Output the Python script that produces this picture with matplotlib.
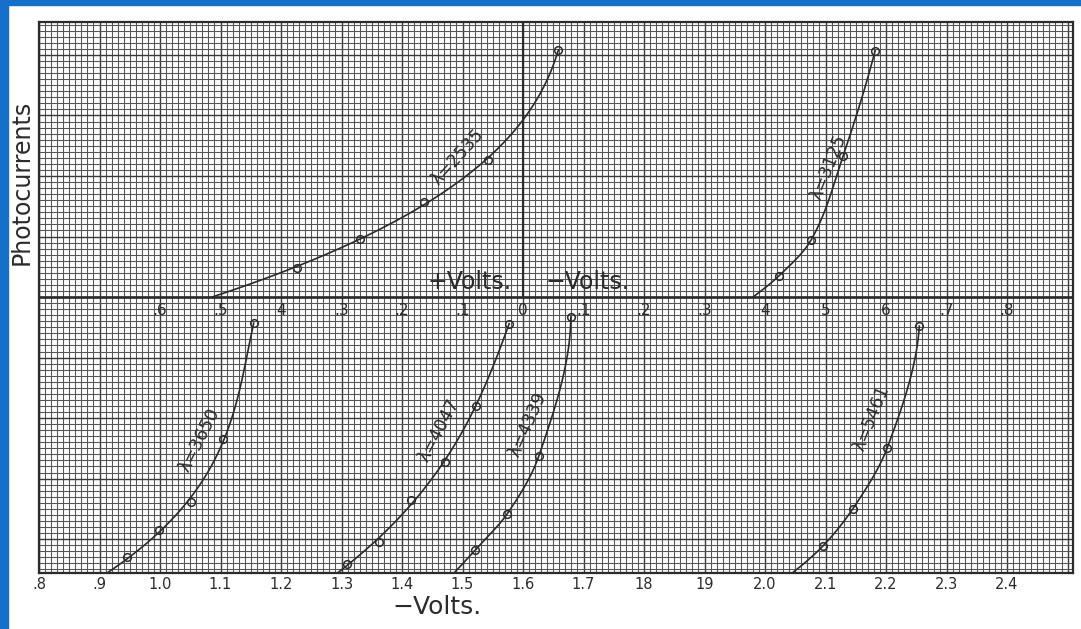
import numpy as np
import matplotlib
matplotlib.use("Agg")
import matplotlib.pyplot as plt
from matplotlib.patches import Rectangle
from matplotlib.ticker import MultipleLocator

# ---------------- data ----------------
# Upper scale tick values (negative = "+Volts", positive = "-Volts") and labels
upper_tick_values = [-0.6, -0.5, -0.4, -0.3, -0.2, -0.1, 0.0, 0.1, 0.2, 0.3, 0.4, 0.5, 0.6, 0.7, 0.8]
upper_tick_labels = [".6", ".5", "4", ".3", ".2", ".1", "0", ".1", ".2", ".3", "4", "5", "6", ".7", ".8"]

# Lower scale ("-Volts") tick values and labels
lower_tick_values = [0.8, 0.9, 1.0, 1.1, 1.2, 1.3, 1.4, 1.5, 1.6, 1.7, 1.8, 1.9, 2.0, 2.1, 2.2, 2.3, 2.4]
lower_tick_labels = [".8", ".9", "1.0", "1.1", "1.2", "1.3", "1.4", "1.5", "1.6", "1.7", "18", "19",
                     "2.0", "2.1", "2.2", "2.3", "2.4"]

# Upper panel curves (upper volt scale, photocurrent in grid divisions); first point = curve start
l2535_volts = [-0.517, -0.374, -0.269, -0.164, -0.058, 0.058]
l2535_curr = [0.0, 4.8, 9.6, 15.7, 22.6, 40.8]
l3125_volts = [0.380, 0.423, 0.476, 0.529, 0.582]
l3125_curr = [0.0, 3.5, 9.4, 23.3, 40.7]

# Lower panel curves (lower "-Volts" scale)
l3650_volts = [0.916, 0.945, 0.998, 1.051, 1.104, 1.155]
l3650_curr = [0.0, 2.6, 7.1, 11.7, 22.1, 41.3]
l4047_volts = [1.293, 1.309, 1.362, 1.415, 1.471, 1.522, 1.577]
l4047_curr = [0.0, 1.5, 5.1, 12.1, 18.3, 27.6, 41.2]
l4339_volts = [1.486, 1.521, 1.574, 1.626, 1.679]
l4339_curr = [0.0, 3.8, 9.8, 19.3, 42.3]
l5461_volts = [2.045, 2.096, 2.145, 2.202, 2.255]
l5461_curr = [0.0, 4.5, 10.6, 20.7, 40.8]

curve_names = ["λ=2535", "λ=3125", "λ=3650", "λ=4047", "λ=4339", "λ=5461"]

# ---------------- layout constants ----------------
SCALE_SHIFT = 1.6      # lower scale = upper scale + 1.6
PANEL = 45.6           # lower panel zero line sits one panel height below the upper one
XLIM = (-0.80, 0.909)
YLIM = (-PANEL, 45.45)
INK = "#2b2b2b"

# label placement (x on its own scale, y in divisions above its zero line, rotation, lower?)
label_layout = [(-0.108, 23.1, 48, False), (0.505, 21.5, 68, False),
                (1.066, 22.0, 63, True), (1.462, 23.6, 62, True),
                (1.608, 24.5, 66, True), (2.176, 25.6, 68, True)]


def pchip(x, y, xs):
    """Monotone cubic (Fritsch-Carlson) curve used only to draw a smooth line."""
    x = np.asarray(x, float)
    y = np.asarray(y, float)
    h = np.diff(x)
    d = np.diff(y) / h
    n = len(x)
    m = np.zeros(n)
    for k in range(1, n - 1):
        if d[k - 1] * d[k] > 0:
            w1 = 2 * h[k] + h[k - 1]
            w2 = h[k] + 2 * h[k - 1]
            m[k] = (w1 + w2) / (w1 / d[k - 1] + w2 / d[k])
    for i0, i1, hh0, hh1 in ((0, 1, h[0], h[1]), (-1, -2, h[-1], h[-2])):
        me = ((2 * hh0 + hh1) * d[i0] - hh0 * d[i1]) / (hh0 + hh1)
        if np.sign(me) != np.sign(d[i0]):
            me = 0.0
        elif np.sign(d[i0]) != np.sign(d[i1]) and abs(me) > abs(3 * d[i0]):
            me = 3 * d[i0]
        m[0 if i0 == 0 else -1] = me
    idx = np.clip(np.searchsorted(x, xs) - 1, 0, n - 2)
    t = (xs - x[idx]) / h[idx]
    h00 = 2 * t ** 3 - 3 * t ** 2 + 1
    h10 = t ** 3 - 2 * t ** 2 + t
    h01 = -2 * t ** 3 + 3 * t ** 2
    h11 = t ** 3 - t ** 2
    return h00 * y[idx] + h10 * h[idx] * m[idx] + h01 * y[idx + 1] + h11 * h[idx] * m[idx + 1]


fig = plt.figure(figsize=(10.81, 6.29), dpi=100, facecolor="white")
L, R, T, B = 39, 1073, 22, 573
ax = fig.add_axes([L / 1081, 1 - B / 629, (R - L) / 1081, (B - T) / 629])
ax.set_xlim(*XLIM)
ax.set_ylim(*YLIM)
ax.set_facecolor("#fbfbfb")

# graph-paper grid
ax.xaxis.set_major_locator(MultipleLocator(0.1))
ax.xaxis.set_minor_locator(MultipleLocator(0.01))
ax.yaxis.set_major_locator(MultipleLocator(10))
ax.yaxis.set_minor_locator(MultipleLocator(1))
ax.grid(which="minor", color="#555555", lw=0.75)
ax.grid(which="major", color="#3a3a3a", lw=1.0)
ax.set_axisbelow(True)
ax.tick_params(which="both", length=0, labelbottom=False, labelleft=False)
for s in ax.spines.values():
    s.set_color(INK)
    s.set_linewidth(1.6)

# axes of the upper panel
ax.axhline(0, color=INK, lw=1.9, zorder=3)
ax.vlines(0, 0, YLIM[1], color=INK, lw=1.5, zorder=3)

series = [(l2535_volts, l2535_curr, False), (l3125_volts, l3125_curr, False),
          (l3650_volts, l3650_curr, True), (l4047_volts, l4047_curr, True),
          (l4339_volts, l4339_curr, True), (l5461_volts, l5461_curr, True)]

for (vx, cy, lower), name, (lx, ly, rot, llow) in zip(series, curve_names, label_layout):
    xs_off = -SCALE_SHIFT if lower else 0.0
    ys_off = -PANEL if lower else 0.0
    vx = np.asarray(vx) + xs_off
    cy = np.asarray(cy) + ys_off
    yy = np.linspace(cy[0], cy[-1], 400)
    if len(vx) >= 6:
        xx = np.polyval(np.polyfit(cy, vx, 3), yy)
    else:
        xx = pchip(cy, vx, yy)
    ax.plot(xx, yy, color=INK, lw=1.2, zorder=4)
    ax.plot(vx[1:], cy[1:], "o", ms=5.5, mfc="none", mec=INK, mew=1.1, zorder=5)
    ax.text(lx + (-SCALE_SHIFT if llow else 0), ly + (-PANEL if llow else 0), name,
            rotation=rot, rotation_mode="anchor", ha="center", va="center",
            fontsize=12.5, color=INK, zorder=6)

# upper scale labels, under the zero line
for v, lab in zip(upper_tick_values, upper_tick_labels):
    ax.annotate(lab, (v, 0), xytext=(0, -4), textcoords="offset points",
                ha="center", va="top", fontsize=11, color=INK, zorder=6)

# lower scale labels, under the graph
for v, lab in zip(lower_tick_values, lower_tick_labels):
    ax.annotate(lab, (v - SCALE_SHIFT, YLIM[0]), xytext=(0, -3), textcoords="offset points",
                ha="center", va="top", fontsize=10.5, color=INK, annotation_clip=False)

ax.text(-0.088, 0.5, "+Volts.", ha="center", va="bottom", fontsize=17, color=INK, zorder=6)
ax.text(0.106, 0.5, "−Volts.", ha="center", va="bottom", fontsize=17, color=INK, zorder=6)

fig.text(437 / 1081, 1 - 607 / 629, "−Volts.", ha="center", va="center", fontsize=18, color=INK)
fig.text(22 / 1081, 1 - 182 / 629, "Photocurrents", rotation=90, ha="center", va="center",
         fontsize=17, color=INK)

# blue frame of the scan (top and left)
fig.patches.append(Rectangle((0, 1 - 5 / 629), 1, 5 / 629, transform=fig.transFigure,
                             color="#1670c9", zorder=10))
fig.patches.append(Rectangle((0, 0), 8 / 1081, 1, transform=fig.transFigure,
                             color="#1670c9", zorder=10))

fig.savefig("out.png", dpi=100, facecolor="white")
